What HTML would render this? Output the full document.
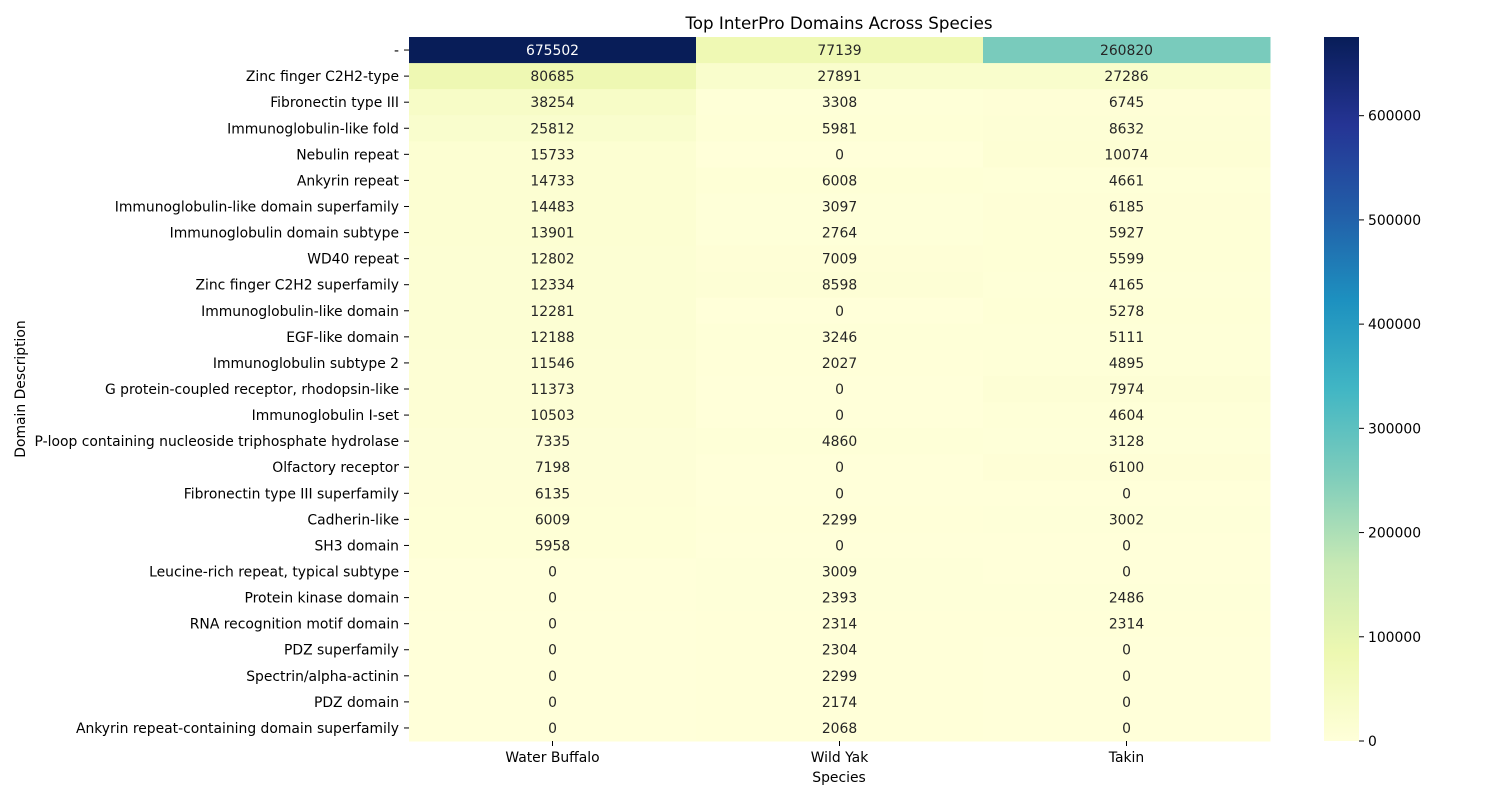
<!DOCTYPE html>
<html><head><meta charset="utf-8"><style>
body{margin:0;background:#fff;font-family:"Liberation Sans","DejaVu Sans",sans-serif;}
</style></head><body>
<svg id="chart" width="1500" height="800" xmlns="http://www.w3.org/2000/svg" font-family="DejaVu Sans, Liberation Sans, sans-serif">
<defs><linearGradient id="cbg" x1="0" y1="1" x2="0" y2="0">
<stop offset="0" stop-color="#ffffd9"/><stop offset="0.125" stop-color="#edf8b1"/><stop offset="0.25" stop-color="#c7e9b4"/><stop offset="0.375" stop-color="#7fcdbb"/><stop offset="0.5" stop-color="#41b6c4"/><stop offset="0.625" stop-color="#1d91c0"/><stop offset="0.75" stop-color="#225ea8"/><stop offset="0.875" stop-color="#253494"/><stop offset="1" stop-color="#081d58"/>
</linearGradient></defs>
<text x="839" y="29" text-anchor="middle" font-size="16.7">Top InterPro Domains Across Species</text>
<text x="839" y="782" text-anchor="middle" font-size="13.9">Species</text>
<text transform="translate(25,389) rotate(-90)" text-anchor="middle" font-size="13.9">Domain Description</text>
<g id="cells"></g><g id="labels"></g>
<rect x="1324" y="37" width="35" height="704" fill="url(#cbg)"/>
<g id="cbticks"></g>
</svg>
<script>
const domains=["-","Zinc finger C2H2-type","Fibronectin type III","Immunoglobulin-like fold","Nebulin repeat","Ankyrin repeat","Immunoglobulin-like domain superfamily","Immunoglobulin domain subtype","WD40 repeat","Zinc finger C2H2 superfamily","Immunoglobulin-like domain","EGF-like domain","Immunoglobulin subtype 2","G protein-coupled receptor, rhodopsin-like","Immunoglobulin I-set","P-loop containing nucleoside triphosphate hydrolase","Olfactory receptor","Fibronectin type III superfamily","Cadherin-like","SH3 domain","Leucine-rich repeat, typical subtype","Protein kinase domain","RNA recognition motif domain","PDZ superfamily","Spectrin/alpha-actinin","PDZ domain","Ankyrin repeat-containing domain superfamily"];
const species=["Water Buffalo","Wild Yak","Takin"];
const waterBuffalo=[675502,80685,38254,25812,15733,14733,14483,13901,12802,12334,12281,12188,11546,11373,10503,7335,7198,6135,6009,5958,0,0,0,0,0,0,0];
const wildYak=[77139,27891,3308,5981,0,6008,3097,2764,7009,8598,0,3246,2027,0,0,4860,0,0,2299,0,3009,2393,2314,2304,2299,2174,2068];
const takin=[260820,27286,6745,8632,10074,4661,6185,5927,5599,4165,5278,5111,4895,7974,4604,3128,6100,0,3002,0,0,2486,2314,0,0,0,0];
const cbTicks=[0,100000,200000,300000,400000,500000,600000];
const series=[waterBuffalo,wildYak,takin];
const X0=409,X1=1270,Y0=37,Y1=741;
const vmax=Math.max(...series.flat()),vmin=0;
const cw=(X1-X0)/species.length,rh=(Y1-Y0)/domains.length;
const xPos=i=>X0+i*cw, yPos=j=>Y0+j*rh;
const stops=["#ffffd9","#edf8b1","#c7e9b4","#7fcdbb","#41b6c4","#1d91c0","#225ea8","#253494","#081d58"].map(h=>[1,3,5].map(k=>parseInt(h.substr(k,2),16)));
function color(v){let t=(v-vmin)/(vmax-vmin)*8;let i=Math.min(7,Math.floor(t)),f=t-i;const a=stops[i],b=stops[i+1];const c=a.map((x,k)=>Math.round(x+(b[k]-x)*f));return [`rgb(${c})`,0.299*c[0]+0.587*c[1]+0.114*c[2]];}
const NS="http://www.w3.org/2000/svg";
function mk(tag,attrs,parent,txt){const e=document.createElementNS(NS,tag);for(const k in attrs)e.setAttribute(k,attrs[k]);if(txt!==undefined)e.textContent=txt;parent.appendChild(e);return e;}
const cells=document.getElementById('cells'),labels=document.getElementById('labels'),cb=document.getElementById('cbticks');
series.forEach((s,i)=>s.forEach((v,j)=>{const [c,l]=color(v);
const r=mk('rect',{x:xPos(i),y:yPos(j),width:cw+0.5,height:rh+0.5,fill:c},cells);


const t=mk('text',{x:xPos(i)+cw/2,y:yPos(j)+rh/2+5,'text-anchor':'middle','font-size':13.9,fill:l<128?'#fff':'#262626'},cells,String(v));

}));
domains.forEach((d,j)=>{const y=yPos(j)+rh/2;
mk('line',{x1:X0-5,x2:X0,y1:y,y2:y,stroke:'#000'},labels);
const t=mk('text',{x:X0-10,y:y+5,'text-anchor':'end','font-size':13.9},labels,d);

});
species.forEach((s,i)=>{const x=xPos(i)+cw/2;
mk('line',{x1:x,x2:x,y1:Y1,y2:Y1+5,stroke:'#000'},labels);
const t=mk('text',{x:x,y:Y1+21,'text-anchor':'middle','font-size':13.9},labels,s);

});
cbTicks.forEach(v=>{const y=Y1-(v-vmin)/(vmax-vmin)*(Y1-Y0);
mk('line',{x1:1359,x2:1364,y1:y,y2:y,stroke:'#000'},cb);
const t=mk('text',{x:1368,y:y+5,'font-size':13.9},cb,String(v));

});
</script>
</body></html>
